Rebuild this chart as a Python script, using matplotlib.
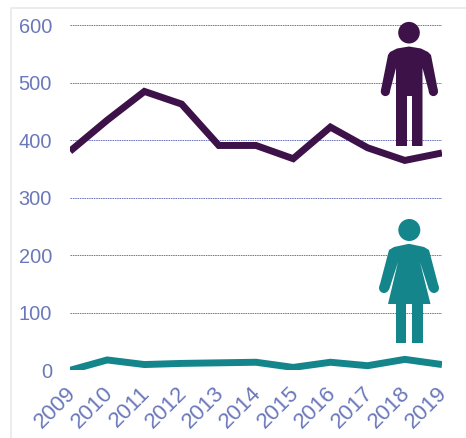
import matplotlib
matplotlib.use("Agg")
import matplotlib.pyplot as plt
from matplotlib.patches import Circle, Polygon
from matplotlib.lines import Line2D
from matplotlib.transforms import ScaledTranslation

plt.rcParams['font.family'] = ['Liberation Sans', 'DejaVu Sans']

years = [2009, 2010, 2011, 2012, 2013, 2014, 2015, 2016, 2017, 2018, 2019]
men = [381, 435, 485, 463, 391, 391, 368, 423, 387, 365, 378]
women = [0, 18, 10, 12, 13, 14, 5, 14, 8, 19, 10]
y_ticks = [0, 100, 200, 300, 400, 500, 600]

PURPLE = '#3d1249'
TEAL = '#14858a'
LABEL = '#6a78bb'
GRID = '#6a74c0'
W, H = 466, 438

fig = plt.figure(figsize=(W / 100, H / 100), dpi=100, facecolor='white')
ax = fig.add_axes([70 / W, 1 - 370.3 / H, (442 - 70) / W, (370.3 - 25.3) / H])
ax.set_xlim(2009, 2019)
ax.set_ylim(0, 600)
for s in ax.spines.values():
    s.set_visible(False)
ax.set_yticks(y_ticks)
ax.set_xticks(years)
ax.set_xticklabels([str(y) for y in years], rotation=45, ha='right', va='top',
                   rotation_mode='anchor')
ax.tick_params(length=0, labelsize=14.4, labelcolor=LABEL)
ax.tick_params(axis='x', labelsize=16, pad=7)
ax.tick_params(axis='y', pad=13)
shift = ScaledTranslation(-5 / 100, -3 / 100, fig.dpi_scale_trans)
for lab in ax.get_xticklabels():
    lab.set_transform(lab.get_transform() + shift)
ax.grid(axis='y', color=GRID, lw=0.7, ls=(0, (1.6, 0.8)))
ax.grid(axis='x', visible=False)
ax.set_axisbelow(True)
ax.plot(years, men, color=PURPLE, lw=5, solid_joinstyle='miter', solid_capstyle='butt')
ax.plot(years, women, color=TEAL, lw=5, solid_joinstyle='miter', solid_capstyle='butt')

# Overlay in pixel coordinates for frame and pictograms
ov = fig.add_axes([0, 0, 1, 1], facecolor='none')
ov.set_xlim(0, W)
ov.set_ylim(H, 0)
ov.axis('off')
ov.add_line(Line2D([11, 11, W], [H, 7.5, 7.5], color='#e9e9e9', lw=1.2))

# Man
ov.add_patch(Circle((409, 32.7), 10.8, color=PURPLE, lw=0))
ov.add_patch(Polygon([(396, 146), (407, 146), (407, 96), (412, 96), (412, 146), (422.5, 146),
                      (422.5, 68), (429, 92), (437.8, 90), (431, 55), (428, 52), (421, 48.5),
                      (409, 46.5), (397, 48.5), (390, 52), (388, 55), (381, 90), (389.8, 92),
                      (396, 68)],
                     closed=True, color=PURPLE, lw=0))
ov.add_patch(Circle((385.4, 91.5), 4.6, color=PURPLE, lw=0))
ov.add_patch(Circle((433.4, 91.5), 4.6, color=PURPLE, lw=0))

# Woman
ov.add_patch(Circle((409.3, 230), 11, color=TEAL, lw=0))
ov.add_patch(Polygon([(396, 343), (406, 343), (406, 304), (412, 304), (412, 343), (423, 343),
                      (423, 304), (430.5, 304), (420, 262), (429, 290), (438.5, 286), (429, 250),
                      (424, 247), (409, 243.8), (394, 247), (389, 250), (379.5, 286), (389, 290),
                      (398, 262), (388, 304), (396, 304)],
                     closed=True, color=TEAL, lw=0))
ov.add_patch(Circle((384, 288), 5, color=TEAL, lw=0))
ov.add_patch(Circle((434, 288), 5, color=TEAL, lw=0))

fig.savefig('out.png', dpi=100, facecolor='white')
